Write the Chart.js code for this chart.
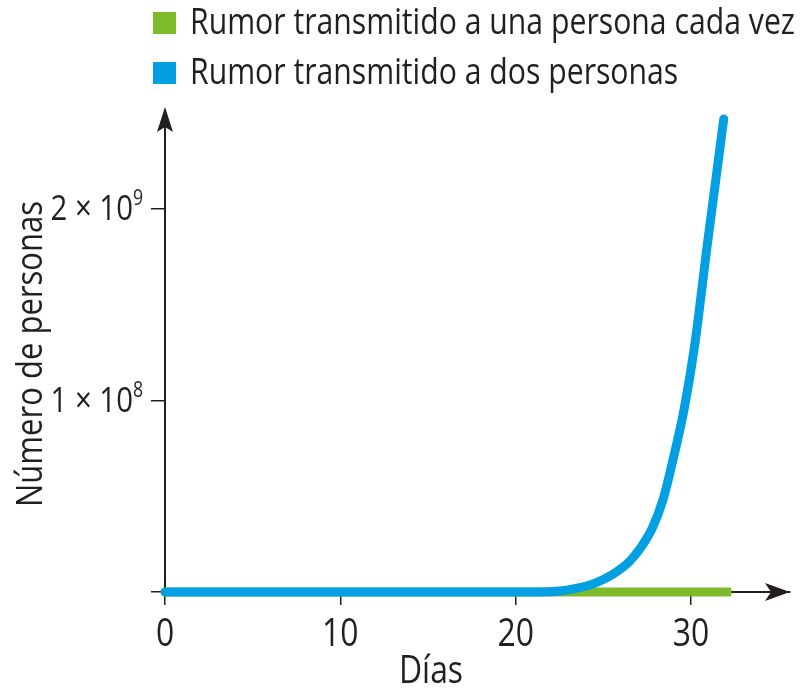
<!DOCTYPE html>
<html lang="es">
<head>
    <meta charset="UTF-8">
    <title>Rumor</title>
    <script src="https://cdn.jsdelivr.net/npm/chart.js"></script>
    <style>
        body {
            margin: 0;
            padding: 0;
            background-color: #ffffff;
        }

        .chart-box {
            width: 800px;
            height: 694px;
        }
    </style>
</head>

<body>
<div class="chart-box">
    <canvas id="rumorChart" width="800" height="694"></canvas>
</div>

<script>
    // Datos
    const seriesNames = ['Rumor transmitido a una persona cada vez', 'Rumor transmitido a dos personas'];

    // Rumor transmitido a una persona (prácticamente cero a esta escala)
    const unaDias = [0, 10, 20, 30, 32.3];
    const unaPersonas = [1, 11, 21, 31, 33];

    // Rumor transmitido a dos personas
    const dosDias = [0, 10, 20, 21.4, 22.5, 23.5, 24.5, 25.5, 26.5, 27.2, 27.8, 28.4, 29.0, 29.6, 30.2, 30.9, 31.87];
    const dosPersonas = [0, 0, 0, 0, 0.005e9, 0.02e9, 0.045e9, 0.09e9, 0.16e9, 0.24e9, 0.335e9, 0.48e9, 0.70e9, 0.95e9, 1.28e9, 1.79e9, 2.47e9];

    const xTicks = [0, 10, 20, 30];
    const xTickLabels = ['0', '10', '20', '30'];
    const yTicks = [0, 1e9, 2e9];
    const yTickBase = ['', '1 × 10', '2 × 10'];
    const yTickExp = ['', '8', '9'];

    const xTitle = 'Días';
    const yTitle = 'Número de personas';

    const colorUna = '#7dbb2a';
    const colorDos = '#02a0e2';
    const ink = '#231f20';
    const fontName = '"Open Sans", "Noto Sans", sans-serif';

    // texto estrecho: se comprime en horizontal como la letra condensada del original
    let squeeze = 1;

    function narrowText(ctx, text, x, y, size, align) {
        ctx.save();
        ctx.font = size + 'px ' + fontName;
        const w = ctx.measureText(text).width * squeeze;
        let left = x;
        if (align === 'center') left = x - w / 2;
        if (align === 'right') left = x - w;
        ctx.translate(left, y);
        ctx.scale(squeeze, 1);
        ctx.textAlign = 'left';
        ctx.textBaseline = 'alphabetic';
        ctx.fillText(text, 0, 0);
        ctx.restore();
        return w;
    }

    // Leyenda, etiquetas, títulos y flechas de los ejes
    const extrasPlugin = {
        id: 'extras',
        afterDraw(chart) {
            const ctx = chart.ctx;
            const area = chart.chartArea;
            const x = chart.scales.x;
            const y = chart.scales.y;
            ctx.save();
            ctx.fillStyle = ink;

            // flechas
            ctx.beginPath();
            ctx.moveTo(x.left, area.top - 3);
            ctx.lineTo(x.left - 8, area.top + 22);
            ctx.lineTo(x.left, area.top + 17);
            ctx.lineTo(x.left + 8, area.top + 22);
            ctx.closePath();
            ctx.fill();

            ctx.beginPath();
            ctx.moveTo(area.right, y.bottom);
            ctx.lineTo(area.right - 25, y.bottom - 9);
            ctx.lineTo(area.right - 19, y.bottom);
            ctx.lineTo(area.right - 25, y.bottom + 9);
            ctx.closePath();
            ctx.fill();

            // leyenda
            ctx.font = '36px ' + fontName;
            squeeze = 605 / ctx.measureText(seriesNames[0]).width;
            const colors = [colorUna, colorDos];
            seriesNames.forEach((name, i) => {
                const top = 12 + i * 50;
                ctx.fillStyle = colors[i];
                ctx.fillRect(153, top, 23, 22);
                ctx.fillStyle = ink;
                narrowText(ctx, name, 190, top + 22, 36, 'left');
            });

            // etiquetas del eje x
            xTicks.forEach((v, i) => {
                narrowText(ctx, xTickLabels[i], x.getPixelForValue(v), 646, 38, 'center');
            });

            // etiquetas del eje y con exponente
            yTicks.forEach((v, i) => {
                if (!yTickBase[i]) return;
                const py = y.getPixelForValue(v);
                const expW = narrowText(ctx, yTickExp[i], 143, py - 4, 21, 'right');
                narrowText(ctx, yTickBase[i], 143 - expW, py + 11, 35, 'right');
            });

            // títulos de ejes
            narrowText(ctx, xTitle, 431, 683, 38, 'center');

            ctx.translate(42, 354);
            ctx.rotate(-Math.PI / 2);
            narrowText(ctx, yTitle, 0, 0, 37, 'center');
            ctx.restore();
        }
    };

    const ctx = document.getElementById('rumorChart').getContext('2d');
    new Chart(ctx, {
        type: 'line',
        data: {
            datasets: [
                {
                    label: seriesNames[1],
                    data: dosDias.map((d, i) => ({x: d, y: dosPersonas[i]})),
                    borderColor: colorDos,
                    borderWidth: 9,
                    borderCapStyle: 'round',
                    borderJoinStyle: 'round',
                    cubicInterpolationMode: 'monotone',
                    pointRadius: 0,
                    clip: false,
                    order: 0
                },
                {
                    label: seriesNames[0],
                    data: unaDias.map((d, i) => ({x: d, y: unaPersonas[i]})),
                    borderColor: colorUna,
                    borderWidth: 9,
                    borderCapStyle: 'butt',
                    pointRadius: 0,
                    clip: false,
                    order: 1
                }
            ]
        },
        options: {
            responsive: false,
            animation: false,
            layout: {
                padding: {top: 110, right: 10, bottom: 0, left: 0}
            },
            plugins: {
                legend: {display: false},
                tooltip: {enabled: false}
            },
            scales: {
                x: {
                    type: 'linear',
                    min: 0,
                    max: 35.65,
                    afterBuildTicks: (scale) => {
                        scale.ticks = xTicks.map(v => ({value: v}));
                    },
                    afterFit: (scale) => {
                        scale.height = 102;
                    },
                    border: {display: true, color: ink, width: 2},
                    grid: {
                        drawOnChartArea: false,
                        drawTicks: true,
                        tickLength: 13,
                        color: ink,
                        lineWidth: 1.5
                    },
                    ticks: {display: false}
                },
                y: {
                    type: 'linear',
                    min: 0,
                    max: 2.517e9,
                    afterBuildTicks: (scale) => {
                        scale.ticks = yTicks.map(v => ({value: v}));
                    },
                    afterFit: (scale) => {
                        scale.width = 165;
                    },
                    border: {display: true, color: ink, width: 2},
                    grid: {
                        drawOnChartArea: false,
                        drawTicks: true,
                        tickLength: 14,
                        color: ink,
                        lineWidth: 1.5
                    },
                    ticks: {display: false}
                }
            }
        },
        plugins: [extrasPlugin]
    });
</script>
</body>
</html>
